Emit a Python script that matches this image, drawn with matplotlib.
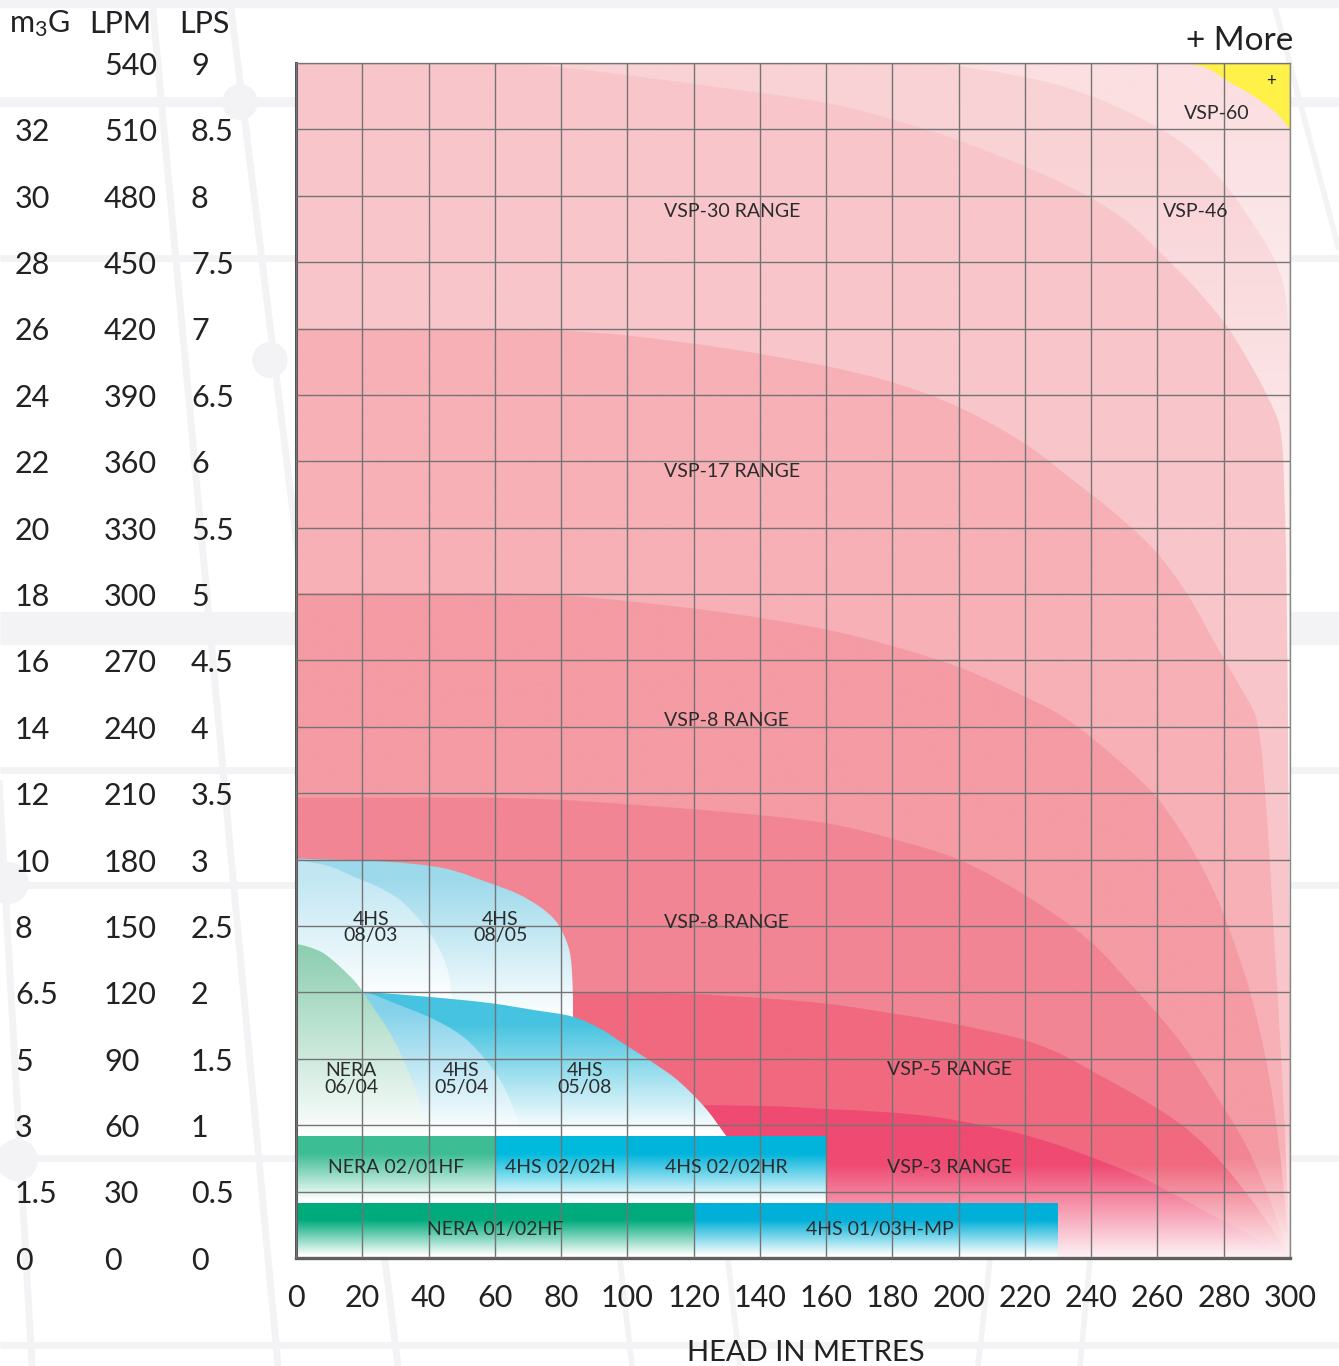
import numpy as np
import matplotlib
matplotlib.use('Agg')
import matplotlib.pyplot as plt
from matplotlib.patches import PathPatch, Circle
from matplotlib.path import Path
from matplotlib.lines import Line2D
from matplotlib.colors import to_rgb

plt.rcParams['font.family'] = ['Lato', 'DejaVu Sans']
plt.rcParams['mathtext.fontset'] = 'custom'
plt.rcParams['mathtext.rm'] = 'Lato'
plt.rcParams['mathtext.default'] = 'regular'

# ---------------- data ----------------
head_ticks = list(range(0, 301, 20))
lpm_ticks = list(range(0, 541, 30))
lpm_rows = [540, 510, 480, 450, 420, 390, 360, 330, 300, 270, 240, 210, 180, 150, 120, 90, 60, 30, 0]
m3g_labels = ['', '32', '30', '28', '26', '24', '22', '20', '18', '16', '14', '12', '10', '8', '6.5', '5', '3', '1.5', '0']
lps_labels = ['9', '8.5', '8', '7.5', '7', '6.5', '6', '5.5', '5', '4.5', '4', '3.5', '3', '2.5', '2', '1.5', '1', '0.5', '0']

# pump range outlines (head m, flow LPM); last points are straight closing corners
vsp60_x = [0, 266, 275, 281, 287, 291, 295, 297, 299, 300, 300, 0]
vsp60_y = [540, 540, 537.6, 532, 527, 523, 518.5, 515.7, 512, 509.5, 0, 0]

vsp46_x = [0, 192, 200, 215, 230, 245, 260, 270, 281, 289, 295, 298, 299.3, 300, 300, 0]
vsp46_y = [540, 540, 538.5, 535, 530, 522, 511, 501, 484, 467, 452, 440, 425, 400, 0, 0]

vsp30_x = [0, 60, 80, 104, 130, 160, 180, 200, 225, 241, 252, 261, 271, 281, 288, 293, 297, 298.3, 299, 299.5, 300, 300, 0]
vsp30_y = [540, 540, 538, 533.7, 528.5, 522, 514.5, 505, 490, 478, 467, 454, 439, 421, 404, 390, 375, 345, 300, 220, 120, 0, 0]

vsp17_x = [0, 56, 80, 99, 130, 160, 177, 193, 208, 222, 234, 246, 259, 269, 278, 285, 290, 293, 295, 297, 298.5, 300, 0]
vsp17_y = [420, 420, 419, 417, 411, 403, 397, 389, 378.5, 366, 352, 338, 320, 300, 276, 258, 243, 200, 150, 100, 55, 0, 0]

vsp8a_x = [0, 56, 80, 99, 130, 160, 180, 200, 216, 231.5, 245, 258.7, 267, 274, 279, 283, 288, 292, 295, 297.5, 300, 0]
vsp8a_y = [300.5, 300.5, 299.5, 297, 291.5, 284, 276.5, 267, 256.5, 244.6, 229, 210, 193, 175, 159, 143, 120, 95, 70, 40, 0, 0]

vsp8b_x = [0, 56, 80, 100, 130, 160, 181, 200, 220, 239, 253, 266.5, 277, 286, 293, 297.6, 300, 0]
vsp8b_y = [208, 208, 207, 205, 201.5, 196.5, 189, 180, 164, 144, 122, 98.5, 75, 53, 30, 10, 0, 0]

vsp5_x = [0, 110, 130, 159.7, 180, 192.6, 206, 219.9, 231, 241.3, 254, 266.5, 275, 282, 289, 295, 300, 0]
vsp5_y = [119.7, 119.7, 118.5, 115, 110.5, 107.5, 103.5, 98.5, 92, 83.6, 73, 61, 50, 38.4, 25, 12, 0, 0]

vsp3_x = [0, 125, 145, 160, 177, 192.6, 207, 218, 230, 242.7, 255, 266, 277, 286, 294, 300, 0]
vsp3_y = [69, 69, 68.5, 67.3, 66, 63.8, 60, 56.4, 51, 44, 36.5, 28, 19, 12, 5, 0, 0]

hs0805_x = [0, 28, 45, 58.5, 67, 73.6, 78, 80.6, 82.5, 83.2, 83.6, 83.7, 0]
hs0805_y = [180.5, 179, 176, 169.4, 164.5, 158.7, 153, 146.8, 139, 131.6, 117, 55, 55]

hs0803_x = [0, 10, 18, 25, 31.4, 36, 40.4, 43.5, 45.5, 46.5, 47, 47, 0]
hs0803_y = [180, 177, 172, 167.5, 161.8, 155, 146.8, 139, 131.6, 125, 118, 100, 100]

hs0508_x = [0, 19.8, 40, 58.5, 72, 83.6, 92, 98.7, 106, 113.8, 119, 124, 127.5, 130, 0]
hs0508_y = [122, 120.3, 118, 115.2, 112, 109, 103.5, 97, 90, 82, 75, 67, 60, 54.8, 54.8]

hs0504_x = [0, 19.8, 30, 40, 47, 52, 57, 61, 63.5, 65.5, 67.5, 68, 0]
hs0504_y = [121, 120.3, 115, 109, 103.5, 98, 90, 82, 75, 68, 60, 55, 55]

nera0604_x = [0, 4, 8.2, 13, 18.3, 23, 28.4, 32, 35.4, 37.5, 39, 39.5, 0]
nera0604_y = [142, 140.5, 137.8, 132, 124, 114, 101.6, 91, 79, 70, 61, 55, 55]

# fixed-size models: name, head from/to, flow from/to
box_names = ['NERA 02/01HF', '4HS 02/02H', '4HS 02/02HR', 'NERA 01/02HF', '4HS 01/03H-MP']
box_h0 = [0, 60, 100, 0, 120]
box_h1 = [60, 100, 160, 120, 230]
box_q0 = [25, 25, 25, 0, 0]
box_q1 = [55, 55, 55, 25, 25]
box_colors = ['#3dbd94', '#00badd', '#00b4db', '#00ab7b', '#00b0d8']

range_labels = ['VSP-30 RANGE', 'VSP-17 RANGE', 'VSP-8 RANGE', 'VSP-8 RANGE', 'VSP-5 RANGE',
                'VSP-3 RANGE', 'VSP-60', 'VSP-46', '4HS\n08/03', '4HS\n08/05', 'NERA\n06/04',
                '4HS\n05/04', '4HS\n05/08']

# ---------------- figure ----------------
W, H = 1339, 1366
fig = plt.figure(figsize=(W / 100, H / 100), dpi=100)
fig.patch.set_facecolor('white')

# faint decorative background lattice (figure pixels)
deco = '#f3f3f6'
def pline(x0, y0, x1, y1, lw):
    fig.add_artist(Line2D([x0 / W, x1 / W], [1 - y0 / H, 1 - y1 / H], color=deco,
                          lw=lw, transform=fig.transFigure, zorder=0, solid_capstyle='butt'))
for yy, lw in [(4, 6), (102, 7), (258, 5), (628, 24), (770, 5), (885, 5), (1158, 5), (1345, 5)]:
    pline(0, yy, W, yy, lw)
pline(152, 0, 278, 1366, 5)
pline(230, 0, 398, 1366, 5)
pline(-45, 0, 32, 1366, 5)
pline(1273, 0, 1339, 250, 4)
pline(620, 1260, 632, 1366, 4)
pline(728, 1260, 740, 1366, 4)
pline(990, 1260, 978, 1366, 4)
pline(1090, 1260, 1080, 1366, 4)
for cx, cy, r in [(240, 102, 17), (270, 360, 17), (8, 883, 20), (17, 1160, 20)]:
    fig.add_artist(Circle((cx / W, 1 - cy / H), r / W, transform=fig.transFigure,
                          color=deco, zorder=0))

ax = fig.add_axes([296 / W, 1 - 1258 / H, 994 / W, 1195 / H])
ax.set_facecolor('#fff147')

SX, SY = 994 / 300, 1195 / 540   # pixel per unit, for smooth tangents


def smooth_outline(xs, ys, n_corner):
    """Bezier path through the read points (curved part), straight closing corners."""
    P = np.column_stack([np.asarray(xs, float) * SX, np.asarray(ys, float) * SY])
    n = len(P) - n_corner
    C = P[:n]
    dirs = []
    for i in range(n):
        a = C[max(i - 1, 0)]
        b = C[min(i + 1, n - 1)]
        d = b - a
        nd = np.hypot(*d)
        dirs.append(d / nd if nd > 0 else d)
    verts = [C[0]]
    codes = [Path.MOVETO]
    for i in range(n - 1):
        L = np.hypot(*(C[i + 1] - C[i]))
        verts += [C[i] + dirs[i] * L / 3, C[i + 1] - dirs[i + 1] * L / 3, C[i + 1]]
        codes += [Path.CURVE4] * 3
    for p in P[n:]:
        verts.append(p)
        codes.append(Path.LINETO)
    verts.append(C[0])
    codes.append(Path.CLOSEPOLY)
    V = np.array(verts)
    V[:, 0] /= SX
    V[:, 1] /= SY
    return Path(V, codes)


def grad_fill(xs, ys, n_corner, color, y_solid, y_white, z):
    patch = PathPatch(smooth_outline(xs, ys, n_corner), facecolor='none',
                      edgecolor='none', zorder=z)
    ax.add_patch(patch)
    yy = np.linspace(0, 540, 1081)
    t = np.clip((yy - y_white) / (y_solid - y_white), 0, 1)
    c = np.array(to_rgb(color))
    img = (1 - t)[:, None] + t[:, None] * c[None, :]
    img = img[:, None, :]
    im = ax.imshow(img, extent=[0, 300, 0, 540], origin='lower', aspect='auto',
                   zorder=z, interpolation='bilinear')
    im.set_clip_path(patch)


grad_fill(vsp60_x, vsp60_y, 2, '#fbdfe1', 520, 280, 1.00)
grad_fill(vsp46_x, vsp46_y, 2, '#f9d2d5', 500, 220, 1.02)
grad_fill(vsp30_x, vsp30_y, 2, '#f8c6ca', 60, -5, 1.04)
grad_fill(vsp17_x, vsp17_y, 1, '#f7b0b6', 50, -5, 1.06)
grad_fill(vsp8a_x, vsp8a_y, 1, '#f49ba4', 45, -5, 1.08)
grad_fill(vsp8b_x, vsp8b_y, 1, '#f28593', 45, -5, 1.10)
grad_fill(vsp5_x, vsp5_y, 1, '#f0697f', 42, -4, 1.12)
grad_fill(vsp3_x, vsp3_y, 1, '#ef4a72', 42, -3, 1.14)
grad_fill(hs0805_x, hs0805_y, 2, '#9cd9eb', 172, 108, 1.20)
grad_fill(hs0803_x, hs0803_y, 2, '#c2e7f3', 172, 116, 1.22)
grad_fill(hs0508_x, hs0508_y, 1, '#45c3e0', 106, 57, 1.24)
grad_fill(hs0504_x, hs0504_y, 1, '#84d2ea', 112, 57, 1.26)
grad_fill(nera0604_x, nera0604_y, 1, '#8fcfb2', 138, 54, 1.28)
for h0, h1, q0, q1, col in zip(box_h0, box_h1, box_q0, box_q1, box_colors):
    grad_fill([h0, h1, h1, h0], [q1, q1, q0, q0], 3, col, q1 - 8, q0 + 1, 1.30)

ax.set_xlim(0, 300)
ax.set_ylim(0, 540)

# grid
ax.set_xticks(head_ticks)
ax.set_yticks(lpm_ticks)
ax.set_axisbelow(False)
ax.grid(True, color='#747474', lw=1.0)
ax.tick_params(axis='both', length=0)
ax.set_yticklabels([])
ax.set_xticklabels([str(v) for v in head_ticks], fontsize=22, color='#222222')
ax.tick_params(axis='x', pad=19)
for s in ['top', 'right']:
    ax.spines[s].set_color('#8a8a8a')
    ax.spines[s].set_linewidth(1.0)
ax.spines['left'].set_color('#555555')
ax.spines['left'].set_linewidth(2.2)
ax.spines['bottom'].set_color('#5e5e5e')
ax.spines['bottom'].set_linewidth(2.4)

# left columns
ytr = ax.get_yaxis_transform()
def axx(px):
    return (px - 296) / 994
for q, m, l in zip(lpm_rows, m3g_labels, lps_labels):
    yq = q - 1.3
    ax.text(axx(15), yq, m, transform=ytr, ha='left', va='center', fontsize=22, color='#222222')
    ax.text(axx(104), yq, str(q), transform=ytr, ha='left', va='center', fontsize=22, color='#222222')
    ax.text(axx(191), yq, l, transform=ytr, ha='left', va='center', fontsize=22, color='#222222')

fig.text(9 / W, 1 - 24 / H, 'm$_{3}$G', ha='left', va='center', fontsize=22, color='#222222')
fig.text(89 / W, 1 - 24 / H, 'LPM', ha='left', va='center', fontsize=22, color='#222222')
fig.text(179 / W, 1 - 24 / H, 'LPS', ha='left', va='center', fontsize=22, color='#222222')
fig.text(1293 / W, 1 - 41 / H, '+ More', ha='right', va='center', fontsize=24, color='#222222')
fig.text(806 / W, 1 - 1353 / H, 'HEAD IN METRES', ha='center', va='center', fontsize=21, color='#222222')

# labels inside chart
lab_x = [111, 111, 111, 111, 178.4, 178.4, 268, 261.7, 22.6, 61.6, 16.6, 49.8, 87.2]
lab_y = [473, 355.6, 242.7, 151.8, 85, 40.7, 517, 473, 149.3, 149.3, 80.9, 80.9, 80.9]
lab_ha = ['left'] * 8 + ['center'] * 5
for t, x, y, ha in zip(range_labels, lab_x, lab_y, lab_ha):
    ax.text(x, y, t, ha=ha, va='center', fontsize=14, color='#2b2b2b',
            linespacing=0.95, multialignment='center', zorder=5)
ax.text(294.3, 531.8, '+', ha='center', va='center', fontsize=12, color='#222222', zorder=5)

box_lab_x = [30.2, 79.7, 130, 60, 176.3]
box_lab_y = [40.7, 40.7, 40.7, 12.7, 12.7]
for t, x, y in zip(box_names, box_lab_x, box_lab_y):
    ax.text(x, y, t, ha='center', va='center', fontsize=14, color='#2b2b2b', zorder=5)

fig.savefig('out.png', dpi=100, facecolor='white')
